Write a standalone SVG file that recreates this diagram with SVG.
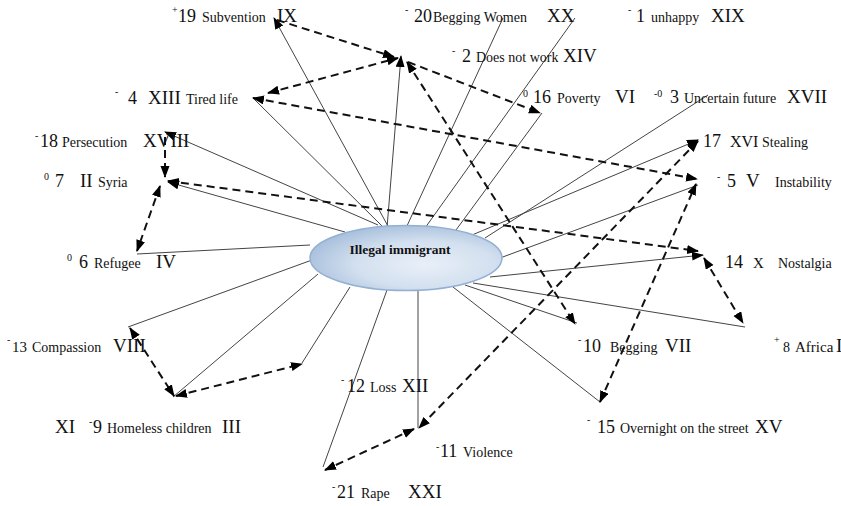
<svg xmlns="http://www.w3.org/2000/svg" width="841" height="506" viewBox="0 0 841 506">
<style>
text{font-family:"Liberation Serif","Times New Roman",serif;fill:#111}
.s{font-size:10px}
.n{font-size:18px}
.w{font-size:14px}
.r{font-size:19px}
.m{font-size:15px}
.sol{stroke:#444;stroke-width:1;fill:none}
.das{stroke:#111;stroke-width:2;stroke-dasharray:8 5;fill:none}
.ah{fill:#000;stroke:none}
</style>
<defs>
<marker id="ar" markerUnits="userSpaceOnUse" markerWidth="12" markerHeight="10" refX="11" refY="4.5" orient="auto-start-reverse" viewBox="0 0 12 10">
<path class="ah" d="M0,0 L12,4.5 L0,9 z"/>
</marker>
<radialGradient id="eg" cx="0.6" cy="0.6" r="0.65">
<stop offset="0" stop-color="#e9eff8"/>
<stop offset="0.55" stop-color="#d3e0ef"/>
<stop offset="1" stop-color="#a6bedb"/>
</radialGradient>
</defs>
<rect width="841" height="506" fill="#fff"/>
<g id="connectors">
<path class="sol" d="M389,228 L274,18" marker-end="url(#ar)"/>
<path class="sol" d="M387,228 L401,56" marker-end="url(#ar)"/>
<path class="sol" d="M406,228 L503,18"/>
<path class="sol" d="M425,228 L575,18"/>
<path class="sol" d="M456,230 L542,113"/>
<path class="sol" d="M485,238 L708,95"/>
<path class="sol" d="M472,235 L698,140" marker-end="url(#ar)"/>
<path class="sol" d="M500,258 L698,185"/>
<path class="sol" d="M490,277 L703,255" marker-end="url(#ar)"/>
<path class="sol" d="M473,283 L745,327"/>
<path class="sol" d="M465,285 L577,323"/>
<path class="sol" d="M453,287 L600,402"/>
<path class="sol" d="M418,290 L418,428"/>
<path class="sol" d="M387,290 L323,467"/>
<path class="sol" d="M350,287 L302,363"/>
<path class="sol" d="M318,274 L173,397"/>
<path class="sol" d="M312,260 L128,327"/>
<path class="sol" d="M310,245 L137,254"/>
<path class="sol" d="M345,232 L168,182" marker-end="url(#ar)"/>
<path class="sol" d="M378,225 L165,132" marker-end="url(#ar)"/>
<path class="sol" d="M383,227 L253,98"/>
<path class="das" d="M277,20 L394,57" marker-end="url(#ar)"/>
<path class="das" d="M268,93 L398,58" marker-start="url(#ar)" marker-end="url(#ar)"/>
<path class="das" d="M408,62 L540,113" marker-end="url(#ar)"/>
<path class="das" d="M407,62 L575,324" marker-start="url(#ar)" marker-end="url(#ar)"/>
<path class="das" d="M253,98 L697,179" marker-start="url(#ar)" marker-end="url(#ar)"/>
<path class="das" d="M165,137 L165,177" marker-end="url(#ar)"/>
<path class="das" d="M168,181 L698,251" marker-start="url(#ar)" marker-end="url(#ar)"/>
<path class="das" d="M160,186 L137,251" marker-start="url(#ar)" marker-end="url(#ar)"/>
<path class="das" d="M130,328 L174,396" marker-start="url(#ar)" marker-end="url(#ar)"/>
<path class="das" d="M176,396 L302,364" marker-start="url(#ar)" marker-end="url(#ar)"/>
<path class="das" d="M704,258 L743,323" marker-start="url(#ar)" marker-end="url(#ar)"/>
<path class="das" d="M600,402 L696,184" marker-start="url(#ar)" marker-end="url(#ar)"/>
<path class="das" d="M698,141 L419,428" marker-start="url(#ar)" marker-end="url(#ar)"/>
<path class="das" d="M414,429 L325,470" marker-start="url(#ar)" marker-end="url(#ar)"/>
</g>
<g id="center">
<ellipse cx="406" cy="258" rx="96" ry="32.5" fill="url(#eg)" stroke="#93b0d3" stroke-width="1.5"/>
<text x="400" y="254" text-anchor="middle" font-size="13.5" font-weight="bold">Illegal immigrant</text>
</g>
<g id="n19"><text><tspan class="s" x="172" y="13">+</tspan><tspan class="n" x="178" y="22">19</tspan><tspan class="w" x="202" y="22">Subvention</tspan><tspan class="r" x="277" y="22">IX</tspan></text></g>
<g id="n20"><text><tspan class="s" x="405" y="13">-</tspan><tspan class="n" x="414" y="22">20</tspan><tspan class="w" x="433" y="22">Begging Women</tspan><tspan class="r" x="547" y="22">XX</tspan></text></g>
<g id="n1"><text><tspan class="s" x="628" y="13">-</tspan><tspan class="n" x="636" y="22">1</tspan><tspan class="w" x="651" y="22">unhappy</tspan><tspan class="r" x="711" y="22">XIX</tspan></text></g>
<g id="n2"><text><tspan class="s" x="452" y="54">-</tspan><tspan class="n" x="462" y="62">2</tspan><tspan class="w" x="476" y="62">Does not work</tspan><tspan class="r" x="563" y="62">XIV</tspan></text></g>
<g id="n16"><text><tspan class="s" x="523" y="97">0</tspan><tspan class="n" x="533" y="103">16</tspan><tspan class="w" x="557" y="103">Poverty</tspan><tspan class="r" x="615" y="103">VI</tspan></text></g>
<g id="n3"><text><tspan class="s" x="654" y="97">-0</tspan><tspan class="n" x="670" y="103">3</tspan><tspan class="w" x="684" y="103">Uncertain future</tspan><tspan class="r" x="787" y="103">XVII</tspan></text></g>
<g id="n17"><text><tspan class="n" x="703" y="147">17</tspan><tspan style="font-size:16px" x="730" y="147">XVI</tspan><tspan class="w" x="762" y="147">Stealing</tspan></text></g>
<g id="n4"><text><tspan class="s" x="115" y="95">-</tspan><tspan class="n" x="128" y="104">4</tspan><tspan class="r" x="148" y="104">XIII</tspan><tspan class="w" x="186" y="104">Tired life</tspan></text></g>
<g id="n18"><text><tspan class="s" x="35" y="139">-</tspan><tspan class="n" x="40" y="147">18</tspan><tspan class="w" x="62" y="147">Persecution</tspan><tspan class="r" x="143" y="147">XVIII</tspan></text></g>
<g id="n7"><text><tspan class="s" x="44" y="180">0</tspan><tspan class="n" x="55" y="187">7</tspan><tspan class="r" x="80" y="187">II</tspan><tspan class="w" x="98" y="187">Syria</tspan></text></g>
<g id="n6"><text><tspan class="s" x="67" y="261">0</tspan><tspan class="n" x="79" y="268">6</tspan><tspan class="w" x="94" y="268">Refugee</tspan><tspan class="r" x="156" y="268">IV</tspan></text></g>
<g id="n5"><text><tspan class="s" x="717" y="180">-</tspan><tspan class="n" x="727" y="187">5</tspan><tspan class="r" x="746" y="187">V</tspan><tspan class="w" x="775" y="187">Instability</tspan></text></g>
<g id="n14"><text><tspan class="n" x="725" y="268">14</tspan><tspan class="m" x="753" y="268">X</tspan><tspan class="w" x="778" y="268">Nostalgia</tspan></text></g>
<g id="n13"><text><tspan class="s" x="7" y="343">-</tspan><tspan class="m" x="12" y="352">13</tspan><tspan class="w" x="32" y="352">Compassion</tspan><tspan class="r" x="113" y="352">VIII</tspan></text></g>
<g id="n9"><text><tspan class="r" x="55" y="433">XI</tspan><tspan class="s" x="89" y="425">-</tspan><tspan class="n" x="93" y="433">9</tspan><tspan class="w" x="107" y="433">Homeless children</tspan><tspan class="r" x="222" y="433">III</tspan></text></g>
<g id="n12"><text><tspan class="s" x="341" y="383">-</tspan><tspan class="n" x="347" y="392">12</tspan><tspan class="w" x="370" y="392">Loss</tspan><tspan class="r" x="402" y="392">XII</tspan></text></g>
<g id="n11"><text><tspan class="s" x="436" y="450">-</tspan><tspan class="n" x="440" y="457">11</tspan><tspan class="w" x="463" y="457">Violence</tspan></text></g>
<g id="n21"><text><tspan class="s" x="332" y="490">-</tspan><tspan class="n" x="337" y="498">21</tspan><tspan class="w" x="361" y="498">Rape</tspan><tspan class="r" x="408" y="498">XXI</tspan></text></g>
<g id="n10"><text><tspan class="s" x="578" y="343">-</tspan><tspan class="n" x="583" y="352">10</tspan><tspan class="w" x="610" y="352">Begging</tspan><tspan class="r" x="665" y="352">VII</tspan></text></g>
<g id="n8"><text><tspan class="s" x="774" y="343">+</tspan><tspan class="w" x="783" y="352">8</tspan><tspan class="m" x="795" y="352">Africa</tspan><tspan class="r" x="836" y="352">I</tspan></text></g>
<g id="n15"><text><tspan class="s" x="587" y="423">-</tspan><tspan class="n" x="597" y="433">15</tspan><tspan class="w" x="620" y="433">Overnight on the street</tspan><tspan class="r" x="755" y="433">XV</tspan></text></g>
</svg>
